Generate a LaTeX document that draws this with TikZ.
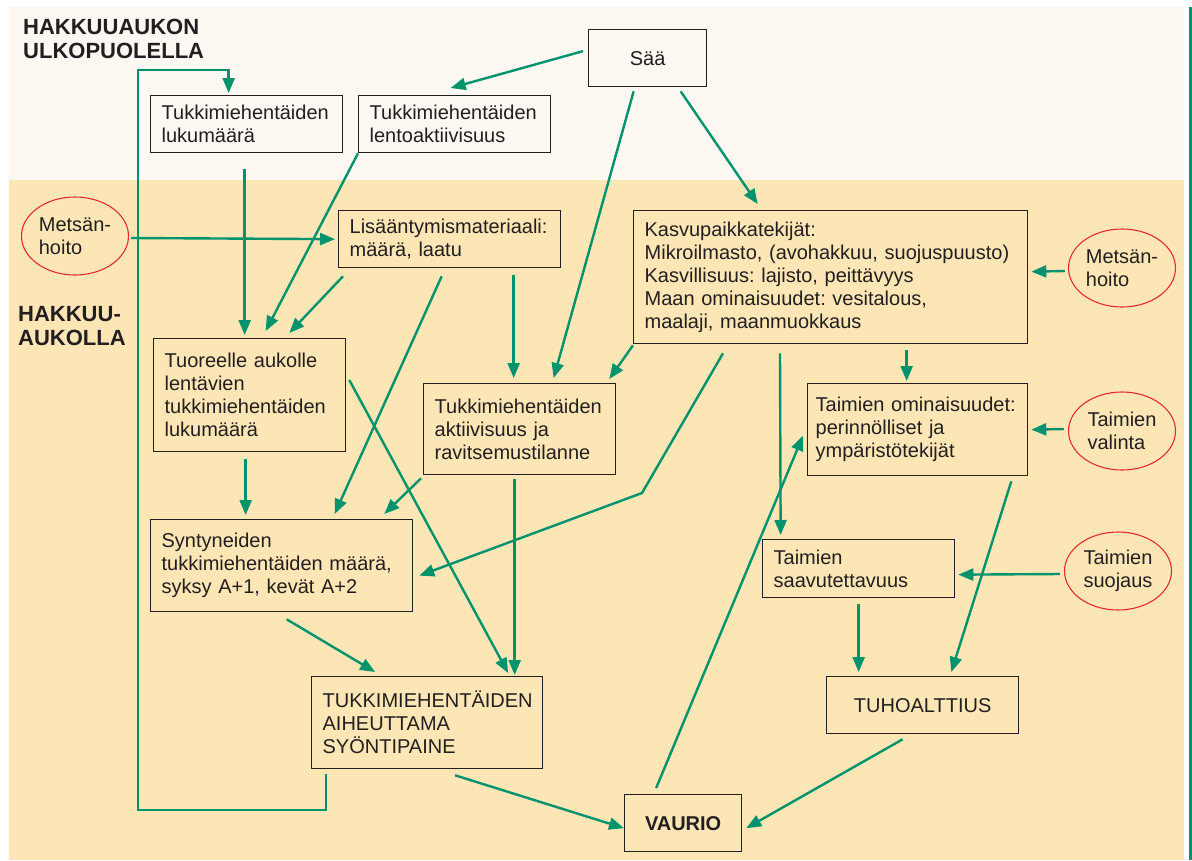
\documentclass[tikz,border=0pt]{standalone}
\usepackage{fontspec}
\setmainfont{Liberation Sans}
\usetikzlibrary{arrows.meta,calc,shapes.geometric}
\definecolor{topband}{HTML}{FDF8F1}
\definecolor{lowband}{HTML}{FDE6B6}
\definecolor{lgreen}{HTML}{00936E}
\definecolor{ored}{HTML}{E52A2F}
\definecolor{ink}{HTML}{231F20}
\tikzset{
  box/.style={draw=ink, line width=1.3pt, anchor=north west, inner xsep=11pt,
    align=left, text=ink, font=\fontsize{20}{23}\selectfont\frenchspacing},
  oval/.style={draw=ored, line width=1.1pt, ellipse, inner sep=0pt,
    minimum width=107pt, minimum height=78pt, align=left, text=ink,
    font=\fontsize{20}{23}\selectfont},
  head/.style={anchor=base west, inner sep=0pt, align=left, text=ink,
    font=\fontsize{22}{23.5}\selectfont\bfseries},
  link/.style={draw=lgreen, line width=2.4pt, -{Triangle[length=15pt,width=12pt]}}
}
\begin{document}
\begin{tikzpicture}[x=1pt,y=-1pt]
      \useasboundingbox (0,0) rectangle (1192,860);
      \fill[topband] (9,7) rectangle (1184,180);
      \fill[lowband] (9,180) rectangle (1184,860);
      \draw[lgreen, line width=2.5pt] (1190.5,7) -- (1190.5,860);
      \node[head] (outside) at (23,58) {HAKKUUAUKON\\ULKOPUOLELLA};
      \node[head] (inside) at (18,345) {HAKKUU-\\AUKOLLA};
      % boxes
      \node[box, minimum width=192pt, minimum height=57pt, text width=170pt] (luku) at (150,95) {Tukkimiehentäiden\\lukumäärä};
      \node[box, minimum width=192pt, minimum height=57pt, text width=170pt] (lento) at (358,95) {Tukkimiehentäiden\\lentoaktiivisuus};
      \node[box, minimum width=118pt, minimum height=57pt, text width=96pt, align=center] (saa) at (588,29) {Sää};
      \node[box, minimum width=222pt, minimum height=57pt, text width=200pt] (lisa) at (338,210) {Lisääntymismateriaali:\\määrä, laatu};
      \node[box, minimum width=394pt, minimum height=133pt, text width=372pt] (kasvu) at (633,210) {Kasvupaikkatekijät:\\Mikroilmasto, (avohakkuu, suojuspuusto)\\Kasvillisuus: lajisto, peittävyys\\Maan ominaisuudet: vesitalous,\\maalaji, maanmuokkaus};
      \node[box, minimum width=192pt, minimum height=113pt, text width=170pt] (tuore) at (153,338) {Tuoreelle aukolle\\lentävien\\tukkimiehentäiden\\lukumäärä};
      \node[box, minimum width=192pt, minimum height=91pt, text width=170pt] (akt) at (423,383) {Tukkimiehentäiden\\aktiivisuus ja\\ravitsemustilanne};
      \node[box, minimum width=220pt, minimum height=92pt, text width=204pt, inner xsep=8pt] (taimo) at (807,383) {Taimien ominaisuudet:\\perinnölliset ja\\ympäristötekijät};
      \node[box, minimum width=262pt, minimum height=92pt, text width=240pt] (synt) at (150,519) {Syntyneiden\\tukkimiehentäiden määrä,\\syksy A+1, kevät A+2};
      \node[box, minimum width=192pt, minimum height=58pt, text width=170pt] (saav) at (762,539) {Taimien\\saavutettavuus};
      \node[box, minimum width=231pt, minimum height=92pt, text width=209pt] (syonti) at (311,676) {TUKKIMIEHENTÄIDEN\\AIHEUTTAMA\\SYÖNTIPAINE};
      \node[box, minimum width=192pt, minimum height=57pt, text width=170pt, align=center] (tuho) at (826,676) {TUHOALTTIUS};
      \node[box, minimum width=117pt, minimum height=57pt, text width=95pt, align=center, font=\fontsize{20}{23}\selectfont\bfseries] (vaurio) at (624,794) {VAURIO};
      % ovals
      \node[oval] (mets1) at (75,236) {Metsän-\\hoito};
      \node[oval] (mets2) at (1122,268) {Metsän-\\hoito};
      \node[oval] (valinta) at (1122,431) {Taimien\\valinta};
      \node[oval] (suoj) at (1118,571) {Taimien\\suojaus};
      % connectors
      \coordinate (loopbot) at (138,810);
      \coordinate (looptop) at (138,70);
      \coordinate (lbend) at (642,493);
      \draw[link] ($(syonti.south west)+(15,5)$) |- (loopbot) -- (looptop) -| ($(luku.north)+(-18,-2)$);
      \draw[link] ($(saa.west)+(-5,-7)$) -- ($(lento.north)+(-4,-7)$);
      \draw[link] ($(saa.south)+(-14,4)$) -- ($(akt.north)+(34,-5)$);
      \draw[link] ($(saa.south)+(33,4)$) -- ($(kasvu.north)+(-73,-6)$);
      \draw[link] ($(luku.south)+(-2,16)$) -- ($(tuore.north)+(-5,-3)$);
      \draw[link] (lento.south west) -- ($(tuore.north)+(16,-7)$);
      \draw[link] ($(lisa.south west)+(5,8)$) -- ($(tuore.north east)+(-57,-5)$);
      \draw[link] ($(mets1.east)+(2,2)$) -- ($(lisa.west)+(-3,0)$);
      \draw[link] ($(lisa.south)+(-8,8)$) -- ($(synt.north)+(53,-5)$);
      \draw[link] ($(lisa.south)+(64,7)$) -- ($(akt.north)+(-6,-5)$);
      \draw[link] ($(kasvu.south west)+(0,1)$) -- ($(akt.north east)+(-7,-4)$);
      \draw[link] ($(kasvu.south west)+(90,9)$) -- (lbend) -- ($(synt.east)+(6,10)$);
      \draw[link] ($(tuore.north east)+(3,42)$) -- ($(syonti.north)+(81,-3)$);
      \draw[link] ($(tuore.south)+(-4,7)$) -- ($(synt.north)+(-36,-4)$);
      \draw[link] ($(akt.south west)+(-2,3)$) -- ($(synt.north east)+(-29,-5)$);
      \draw[link] ($(akt.south)+(-5,4)$) -- ($(syonti.north)+(87.5,-1)$);
      \draw[link] ($(synt.south)+(5,7)$) -- ($(syonti.north)+(-52,-4)$);
      \draw[link] ($(syonti.south)+(28,6)$) -- ($(vaurio.west)+(0,5)$);
      \draw[link] ($(vaurio.north)+(-27,-6)$) -- ($(taimo.west)+(-4,6)$);
      \draw[link] ($(kasvu.south west)+(147,9)$) -- ($(saav.north)+(-78,-4)$);
      \draw[link] ($(kasvu.south)+(76,6)$) -- ($(taimo.north)+(-11,-2)$);
      \draw[link] ($(mets2.west)+(-3,3)$) -- ($(kasvu.east)+(3,-5.5)$);
      \draw[link] ($(valinta.west)+(-4,-2)$) -- ($(taimo.east)+(3,0)$);
      \draw[link] ($(suoj.west)+(-4,3)$) -- ($(saav.east)+(3,6)$);
      \draw[link] ($(taimo.south east)+(-17,5)$) -- ($(tuho.north east)+(-68,-4)$);
      \draw[link] ($(saav.south)+(0,6)$) -- ($(tuho.north)+(-64,-4)$);
      \draw[link] ($(tuho.south)+(-20,5)$) -- ($(vaurio.east)+(4,5)$);
\end{tikzpicture}
\end{document}
